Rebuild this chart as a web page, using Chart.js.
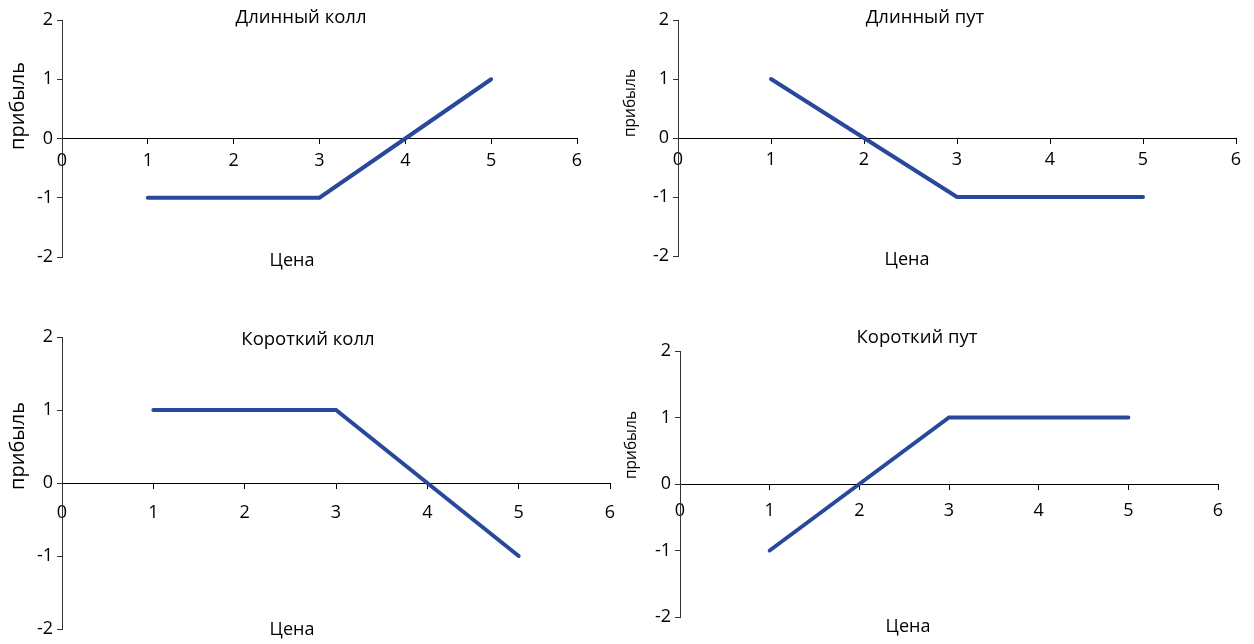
<!DOCTYPE html>
<html lang="ru">
<head>
<meta charset="utf-8">
<title>Профиль прибыли опционов</title>
<script src="https://cdn.jsdelivr.net/npm/chart.js@4/dist/chart.umd.min.js"></script>
<style>
  html, body { margin: 0; padding: 0; background: #fff; }
  body { width: 1254px; height: 644px; position: relative; overflow: hidden; }
  canvas { position: absolute; }
</style>
</head>
<body>
<canvas id="c1"></canvas>
<canvas id="c2"></canvas>
<canvas id="c3"></canvas>
<canvas id="c4"></canvas>
<script>
// data
const prices = [1, 2, 3, 4, 5];
const longCall = [-1, -1, -1, 0, 1];
const longPut = [1, 0, -1, -1, -1];
const shortCall = [1, 1, 1, 0, -1];
const shortPut = [-1, 0, 1, 1, 1];

const priceTicks = [0, 1, 2, 3, 4, 5, 6];
const profitTicks = [-2, -1, 0, 1, 2];

const titles = ['Длинный колл', 'Длинный пут', 'Короткий колл', 'Короткий пут'];
const xTitle = 'Цена';
const yTitle = 'прибыль';

const lineColor = '#28489b';
const fontFamily = '"Open Sans", "Noto Sans", sans-serif';

// where each panel sits on the page (canvas box + plot area edges)
const panels = [
  { id: 'c1', series: longCall,  title: titles[0],
    box: { x: 0, y: 0, w: 610, h: 290 }, area: { l: 62, t: 20, r: 577, b: 257 }, labelPad: 7,
    titlePos: [301, 18], xPos: [292, 261], yPos: [18, 106], ySize: 20 },
  { id: 'c2', series: longPut,   title: titles[1],
    box: { x: 600, y: 0, w: 654, h: 290 }, area: { l: 678, t: 20, r: 1236, b: 256 }, labelPad: 6,
    titlePos: [925, 18], xPos: [907, 260], yPos: [631, 103], ySize: 15.5 },
  { id: 'c3', series: shortCall, title: titles[2],
    box: { x: 0, y: 300, w: 640, h: 344 }, area: { l: 62, t: 337, r: 610, b: 629 }, labelPad: 14,
    titlePos: [308, 340], xPos: [292, 630], yPos: [18, 446], ySize: 20 },
  { id: 'c4', series: shortPut,  title: titles[3],
    box: { x: 600, y: 300, w: 654, h: 344 }, area: { l: 680, t: 351, r: 1218, b: 617 }, labelPad: 11,
    titlePos: [917, 338], xPos: [908, 627], yPos: [632, 445], ySize: 15.5 }
];

// draws the chart title and axis captions at fixed spots
const captions = {
  id: 'captions',
  afterDraw(chart, args, opts) {
    const ctx = chart.ctx;
    ctx.save();
    ctx.fillStyle = '#000';
    ctx.textAlign = 'center';
    ctx.textBaseline = 'middle';
    ctx.font = '18.5px ' + fontFamily;
    ctx.fillText(opts.title, opts.titlePos[0], opts.titlePos[1]);
    ctx.font = '18px ' + fontFamily;
    ctx.fillText(xTitle, opts.xPos[0], opts.xPos[1]);
    ctx.font = opts.ySize + 'px ' + fontFamily;
    ctx.translate(opts.yPos[0], opts.yPos[1]);
    ctx.rotate(-Math.PI / 2);
    ctx.fillText(yTitle, 0, 0);
    ctx.restore();
  }
};

panels.forEach(p => {
  const canvas = document.getElementById(p.id);
  canvas.width = p.box.w;
  canvas.height = p.box.h;
  canvas.style.left = p.box.x + 'px';
  canvas.style.top = p.box.y + 'px';

  const yWidth = p.area.l - p.box.x;

  new Chart(canvas, {
    type: 'scatter',
    data: {
      datasets: [{
        data: prices.map((x, i) => ({ x: x, y: p.series[i] })),
        showLine: true,
        borderColor: lineColor,
        borderWidth: 4,
        borderCapStyle: 'round',
        pointRadius: 0,
        pointHoverRadius: 0,
        tension: 0
      }]
    },
    options: {
      responsive: false,
      animation: false,
      layout: {
        padding: {
          left: 0,
          top: p.area.t - p.box.y,
          right: p.box.x + p.box.w - p.area.r,
          bottom: p.box.y + p.box.h - p.area.b
        }
      },
      plugins: {
        legend: { display: false },
        tooltip: { enabled: false },
        captions: {
          title: p.title,
          titlePos: [p.titlePos[0] - p.box.x, p.titlePos[1] - p.box.y],
          xPos: [p.xPos[0] - p.box.x, p.xPos[1] - p.box.y],
          yPos: [p.yPos[0] - p.box.x, p.yPos[1] - p.box.y],
          ySize: p.ySize
        }
      },
      scales: {
        x: {
          type: 'linear',
          position: { y: 0 },
          min: priceTicks[0],
          max: priceTicks[priceTicks.length - 1],
          ticks: {
            stepSize: 1,
            color: '#000',
            padding: p.labelPad,
            font: { family: fontFamily, size: 18 }
          },
          grid: { drawOnChartArea: false, drawTicks: true, tickLength: 5, color: '#000' },
          border: { display: true, color: '#000', width: 1 }
        },
        y: {
          type: 'linear',
          position: 'left',
          min: profitTicks[0],
          max: profitTicks[profitTicks.length - 1],
          afterFit(scale) { scale.width = yWidth; },
          ticks: {
            stepSize: 1,
            color: '#000',
            padding: 4,
            font: { family: fontFamily, size: 18 }
          },
          grid: { drawOnChartArea: false, drawTicks: true, tickLength: 5, color: '#333' },
          border: { display: true, color: '#333', width: 1 }
        }
      }
    },
    plugins: [captions]
  });
});
</script>
</body>
</html>
